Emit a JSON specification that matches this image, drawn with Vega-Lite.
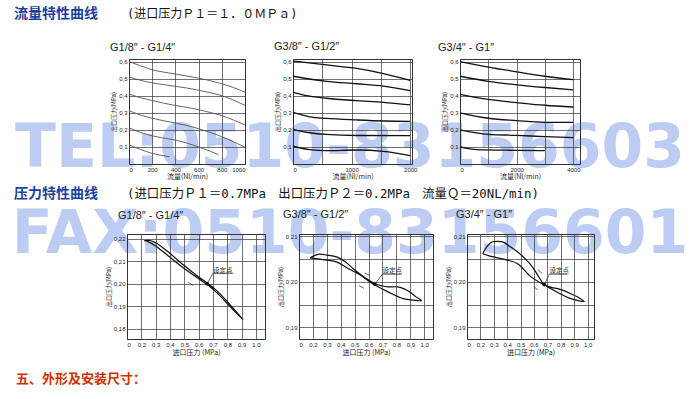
{
  "$schema": "https://vega.github.io/schema/vega-lite/v6.json",
  "padding": 0,
  "background": "white",
  "spacing": 0,
  "config": {
    "view": {"stroke": null},
    "axis": {"grid": true, "gridColor": "#333", "gridWidth": 0.7, "gridOpacity": 1, "domain": false, "ticks": false, "labelOverlap": false,
      "labelFont": "Liberation Sans", "labelFontSize": 6, "labelColor": "#222", "labelPadding": 2,
      "titleFont": "Noto Sans CJK SC", "titleFontSize": 6, "titleFontWeight": "normal", "titleColor": "#222", "titlePadding": 2},
    "title": {"font": "Liberation Sans", "fontSize": 11, "fontWeight": "normal", "color": "#222", "anchor": "start", "frame": "group"},
    "point": {"filled": true, "color": "#111", "size": 14, "opacity": 1},
    "rule": {"color": "#222", "strokeWidth": 0.7},
    "text": {"font": "Noto Sans CJK SC", "fontSize": 6.5, "align": "left", "baseline": "alphabetic", "color": "#222"}
  },
  "datasets": {
    "flow1": [
      {"set": "0.6", "q": 0, "p": 0.600}, {"set": "0.6", "q": 100, "p": 0.575}, {"set": "0.6", "q": 200, "p": 0.552}, {"set": "0.6", "q": 300, "p": 0.538}, {"set": "0.6", "q": 400, "p": 0.527}, {"set": "0.6", "q": 500, "p": 0.515}, {"set": "0.6", "q": 600, "p": 0.503}, {"set": "0.6", "q": 700, "p": 0.488}, {"set": "0.6", "q": 800, "p": 0.470}, {"set": "0.6", "q": 900, "p": 0.448}, {"set": "0.6", "q": 1000, "p": 0.420},
      {"set": "0.5", "q": 0, "p": 0.510}, {"set": "0.5", "q": 100, "p": 0.490}, {"set": "0.5", "q": 200, "p": 0.475}, {"set": "0.5", "q": 300, "p": 0.465}, {"set": "0.5", "q": 400, "p": 0.455}, {"set": "0.5", "q": 500, "p": 0.445}, {"set": "0.5", "q": 600, "p": 0.432}, {"set": "0.5", "q": 700, "p": 0.418}, {"set": "0.5", "q": 800, "p": 0.400}, {"set": "0.5", "q": 900, "p": 0.375}, {"set": "0.5", "q": 1000, "p": 0.343},
      {"set": "0.4", "q": 0, "p": 0.410}, {"set": "0.4", "q": 100, "p": 0.388}, {"set": "0.4", "q": 200, "p": 0.372}, {"set": "0.4", "q": 300, "p": 0.356}, {"set": "0.4", "q": 400, "p": 0.343}, {"set": "0.4", "q": 500, "p": 0.332}, {"set": "0.4", "q": 600, "p": 0.318}, {"set": "0.4", "q": 700, "p": 0.302}, {"set": "0.4", "q": 800, "p": 0.283}, {"set": "0.4", "q": 900, "p": 0.258}, {"set": "0.4", "q": 1000, "p": 0.228},
      {"set": "0.3", "q": 0, "p": 0.312}, {"set": "0.3", "q": 100, "p": 0.287}, {"set": "0.3", "q": 200, "p": 0.268}, {"set": "0.3", "q": 300, "p": 0.253}, {"set": "0.3", "q": 400, "p": 0.240}, {"set": "0.3", "q": 500, "p": 0.225}, {"set": "0.3", "q": 600, "p": 0.207}, {"set": "0.3", "q": 700, "p": 0.185}, {"set": "0.3", "q": 800, "p": 0.160}, {"set": "0.3", "q": 900, "p": 0.130}, {"set": "0.3", "q": 1000, "p": 0.098},
      {"set": "0.2", "q": 0, "p": 0.212}, {"set": "0.2", "q": 100, "p": 0.185}, {"set": "0.2", "q": 200, "p": 0.165}, {"set": "0.2", "q": 300, "p": 0.152}, {"set": "0.2", "q": 400, "p": 0.140}, {"set": "0.2", "q": 500, "p": 0.122}, {"set": "0.2", "q": 600, "p": 0.100}, {"set": "0.2", "q": 700, "p": 0.075}, {"set": "0.2", "q": 770, "p": 0.055},
      {"set": "0.1", "q": 0, "p": 0.112}, {"set": "0.1", "q": 100, "p": 0.085}, {"set": "0.1", "q": 200, "p": 0.062}, {"set": "0.1", "q": 300, "p": 0.048}, {"set": "0.1", "q": 350, "p": 0.042}
    ],
    "flow2": [
      {"set": "0.6", "q": 0, "p": 0.603}, {"set": "0.6", "q": 571, "p": 0.580}, {"set": "0.6", "q": 1086, "p": 0.560}, {"set": "0.6", "q": 1543, "p": 0.530}, {"set": "0.6", "q": 2000, "p": 0.490},
      {"set": "0.5", "q": 0, "p": 0.514}, {"set": "0.5", "q": 571, "p": 0.484}, {"set": "0.5", "q": 1086, "p": 0.470}, {"set": "0.5", "q": 1543, "p": 0.456}, {"set": "0.5", "q": 2000, "p": 0.430},
      {"set": "0.4", "q": 0, "p": 0.420}, {"set": "0.4", "q": 286, "p": 0.397}, {"set": "0.4", "q": 571, "p": 0.385}, {"set": "0.4", "q": 1086, "p": 0.371}, {"set": "0.4", "q": 1543, "p": 0.361}, {"set": "0.4", "q": 2000, "p": 0.346},
      {"set": "0.3", "q": 0, "p": 0.302}, {"set": "0.3", "q": 286, "p": 0.276}, {"set": "0.3", "q": 571, "p": 0.267}, {"set": "0.3", "q": 1086, "p": 0.258}, {"set": "0.3", "q": 1543, "p": 0.252}, {"set": "0.3", "q": 2000, "p": 0.250},
      {"set": "0.2", "q": 0, "p": 0.203}, {"set": "0.2", "q": 286, "p": 0.183}, {"set": "0.2", "q": 571, "p": 0.173}, {"set": "0.2", "q": 1086, "p": 0.167}, {"set": "0.2", "q": 2000, "p": 0.166},
      {"set": "0.1", "q": 0, "p": 0.104}, {"set": "0.1", "q": 286, "p": 0.084}, {"set": "0.1", "q": 571, "p": 0.078}, {"set": "0.1", "q": 1086, "p": 0.082}, {"set": "0.1", "q": 1543, "p": 0.074}, {"set": "0.1", "q": 2000, "p": 0.049}
    ],
    "flow3": [
      {"set": "0.6", "q": 0, "p": 0.600}, {"set": "0.6", "q": 1000, "p": 0.568}, {"set": "0.6", "q": 2000, "p": 0.540}, {"set": "0.6", "q": 3000, "p": 0.514}, {"set": "0.6", "q": 4000, "p": 0.494},
      {"set": "0.5", "q": 0, "p": 0.514}, {"set": "0.5", "q": 1000, "p": 0.484}, {"set": "0.5", "q": 2000, "p": 0.464}, {"set": "0.5", "q": 3000, "p": 0.448}, {"set": "0.5", "q": 4000, "p": 0.434},
      {"set": "0.4", "q": 0, "p": 0.408}, {"set": "0.4", "q": 1000, "p": 0.378}, {"set": "0.4", "q": 2000, "p": 0.360}, {"set": "0.4", "q": 3000, "p": 0.344}, {"set": "0.4", "q": 4000, "p": 0.334},
      {"set": "0.3", "q": 0, "p": 0.300}, {"set": "0.3", "q": 1000, "p": 0.268}, {"set": "0.3", "q": 2000, "p": 0.254}, {"set": "0.3", "q": 3000, "p": 0.244}, {"set": "0.3", "q": 4000, "p": 0.244},
      {"set": "0.2", "q": 0, "p": 0.200}, {"set": "0.2", "q": 1000, "p": 0.174}, {"set": "0.2", "q": 2000, "p": 0.168}, {"set": "0.2", "q": 3000, "p": 0.160}, {"set": "0.2", "q": 4000, "p": 0.154},
      {"set": "0.1", "q": 0, "p": 0.100}, {"set": "0.1", "q": 600, "p": 0.084}, {"set": "0.1", "q": 2000, "p": 0.080}, {"set": "0.1", "q": 3000, "p": 0.078}
    ],
    "pres1": [
      {"o": 1, "x": 0.22, "y": 0.2192}, {"o": 2, "x": 0.26, "y": 0.2192}, {"o": 3, "x": 0.30, "y": 0.2182}, {"o": 4, "x": 0.38, "y": 0.2145}, {"o": 5, "x": 0.49, "y": 0.2085}, {"o": 6, "x": 0.60, "y": 0.2030}, {"o": 7, "x": 0.66, "y": 0.2003}, {"o": 8, "x": 0.73, "y": 0.1967}, {"o": 9, "x": 0.82, "y": 0.1906}, {"o": 10, "x": 0.91, "y": 0.1840},
      {"o": 11, "x": 0.82, "y": 0.1898}, {"o": 12, "x": 0.73, "y": 0.1958}, {"o": 13, "x": 0.66, "y": 0.1996}, {"o": 14, "x": 0.60, "y": 0.2022}, {"o": 15, "x": 0.49, "y": 0.2072}, {"o": 16, "x": 0.38, "y": 0.2128}, {"o": 17, "x": 0.30, "y": 0.2168}, {"o": 18, "x": 0.25, "y": 0.2186}, {"o": 19, "x": 0.22, "y": 0.2192}
    ],
    "pres2": [
      {"o": 1, "x": 0.18, "y": 0.2053}, {"o": 2, "x": 0.22, "y": 0.2059}, {"o": 3, "x": 0.25, "y": 0.2061}, {"o": 4, "x": 0.30, "y": 0.2059}, {"o": 5, "x": 0.37, "y": 0.2055}, {"o": 6, "x": 0.43, "y": 0.2045}, {"o": 7, "x": 0.49, "y": 0.2029}, {"o": 8, "x": 0.57, "y": 0.2010}, {"o": 9, "x": 0.645, "y": 0.1996}, {"o": 10, "x": 0.70, "y": 0.1991}, {"o": 11, "x": 0.74, "y": 0.1989}, {"o": 12, "x": 0.81, "y": 0.1989}, {"o": 13, "x": 0.86, "y": 0.1984}, {"o": 14, "x": 0.90, "y": 0.1977}, {"o": 15, "x": 0.94, "y": 0.1967}, {"o": 16, "x": 0.98, "y": 0.1959},
      {"o": 17, "x": 0.92, "y": 0.1960}, {"o": 18, "x": 0.85, "y": 0.1963}, {"o": 19, "x": 0.74, "y": 0.1978}, {"o": 20, "x": 0.645, "y": 0.1993}, {"o": 21, "x": 0.54, "y": 0.2015}, {"o": 22, "x": 0.45, "y": 0.2030}, {"o": 23, "x": 0.37, "y": 0.2044}, {"o": 24, "x": 0.30, "y": 0.2048}, {"o": 25, "x": 0.25, "y": 0.2050}, {"o": 26, "x": 0.18, "y": 0.2053}
    ],
    "pres3": [
      {"o": 1, "x": 0.217, "y": 0.2062}, {"o": 2, "x": 0.25, "y": 0.2078}, {"o": 3, "x": 0.28, "y": 0.2087}, {"o": 4, "x": 0.304, "y": 0.2089}, {"o": 5, "x": 0.366, "y": 0.2088}, {"o": 6, "x": 0.42, "y": 0.2078}, {"o": 7, "x": 0.478, "y": 0.2066}, {"o": 8, "x": 0.53, "y": 0.2052}, {"o": 9, "x": 0.578, "y": 0.2037}, {"o": 10, "x": 0.628, "y": 0.2015}, {"o": 11, "x": 0.677, "y": 0.1994}, {"o": 12, "x": 0.73, "y": 0.1988}, {"o": 13, "x": 0.789, "y": 0.1984}, {"o": 14, "x": 0.876, "y": 0.1974}, {"o": 15, "x": 0.93, "y": 0.1966}, {"o": 16, "x": 0.975, "y": 0.1957},
      {"o": 17, "x": 0.876, "y": 0.1963}, {"o": 18, "x": 0.751, "y": 0.1981}, {"o": 19, "x": 0.677, "y": 0.1993}, {"o": 20, "x": 0.578, "y": 0.2011}, {"o": 21, "x": 0.478, "y": 0.2040}, {"o": 22, "x": 0.40, "y": 0.2048}, {"o": 23, "x": 0.329, "y": 0.2053}, {"o": 24, "x": 0.26, "y": 0.2058}, {"o": 25, "x": 0.217, "y": 0.2062}
    ],
    "sp1": [{"x": 0.66, "y": 0.2000}],
    "sp2": [{"x": 0.645, "y": 0.1995}],
    "sp3": [{"x": 0.677, "y": 0.1994}],
    "lab1": [{"x": 0.70, "y": 0.2049, "t": "设定点"}],
    "lab2": [{"x": 0.70, "y": 0.2019, "t": "设定点"}],
    "lab3": [{"x": 0.715, "y": 0.2019, "t": "设定点"}],
    "rule1": [
      {"x": 0.70, "y": 0.2047, "x2": 0.84, "y2": 0.2047}, {"x": 0.70, "y": 0.2047, "x2": 0.66, "y2": 0.2000},
      {"x": 0.574, "y": 0.2040, "x2": 0.609, "y2": 0.2028}, {"x": 0.528, "y": 0.2006, "x2": 0.563, "y2": 0.1991}
    ],
    "rule2": [
      {"x": 0.70, "y": 0.2017, "x2": 0.84, "y2": 0.2017}, {"x": 0.70, "y": 0.2017, "x2": 0.645, "y2": 0.1995},
      {"x": 0.572, "y": 0.2020, "x2": 0.608, "y2": 0.2014}, {"x": 0.531, "y": 0.1992, "x2": 0.565, "y2": 0.1986}
    ],
    "rule3": [
      {"x": 0.715, "y": 0.2017, "x2": 0.85, "y2": 0.2017}, {"x": 0.715, "y": 0.2017, "x2": 0.677, "y2": 0.1994},
      {"x": 0.628, "y": 0.2027, "x2": 0.66, "y2": 0.2019}, {"x": 0.598, "y": 0.1989, "x2": 0.628, "y2": 0.1983}
    ]
  },
  "vconcat": [
    {
      "width": 700, "height": 40,
      "data": {"values": [{"a": "流量特性曲线", "b": "(进口压力Ｐ１＝１．０ＭＰａ)"}]},
      "layer": [
        {"mark": {"type": "text", "align": "left", "baseline": "middle", "font": "Noto Sans CJK SC", "fontSize": 14, "fontWeight": "bold", "color": "#1c3f9e"},
         "encoding": {"text": {"field": "a"}, "x": {"value": 14}, "y": {"value": 14}}},
        {"mark": {"type": "text", "align": "left", "baseline": "middle", "font": "DejaVu Sans Mono, Noto Sans CJK SC", "fontSize": 12, "color": "#111"},
         "encoding": {"text": {"field": "b"}, "x": {"value": 127}, "y": {"value": 14}}}
      ]
    },
    {
      "bounds": "flush",
      "spacing": 48,
      "hconcat": [
        {"width": 81, "height": 10, "data": {"values": [{"t": "TEL:0510-83156603"}]},
         "mark": {"type": "text", "font": "DejaVu Sans", "fontWeight": "bold", "fontSize": 60, "fill": "#b6c7f2", "opacity": 0.9, "align": "center", "baseline": "middle"},
         "encoding": {"text": {"field": "t"}, "x": {"value": 350}, "y": {"value": 90}}},
        {
          "width": 116, "height": 105,
          "view": {"stroke": "#333", "strokeWidth": 1},
          "title": {"text": "G1/8″ - G1/4″", "dx": -19, "offset": 6},
          "encoding": {
            "x": {"field": "q", "type": "quantitative", "scale": {"domain": [0, 1000], "nice": false, "zero": false},
                  "axis": {"values": [0, 200, 400, 600, 800, 1000], "labelExpr": "format(datum.value, 'd')", "title": "流量(Nl/min)", "titleFontSize": 7, "titlePadding": 0}},
            "y": {"field": "p", "type": "quantitative", "scale": {"domain": [0, 0.615], "nice": false, "zero": false},
                  "axis": {"values": [0.1, 0.2, 0.3, 0.4, 0.5, 0.6], "title": "出口压力(MPa)", "labelExpr": "replace(format(datum.value, '.1f'), '.', ',')"}}
          },
          "layer": [
            {"data": {"name": "flow1"}, "mark": {"type": "line", "stroke": "#555", "strokeWidth": 0.9, "interpolate": "monotone"},
             "encoding": {"detail": {"field": "set"}}},
            {"data": {"values": [{}]}, "mark": {"type": "rect", "fill": null, "stroke": "#999", "strokeWidth": 0.8},
             "encoding": {
               "x": {"datum": -190, "type": "quantitative", "scale": {"domain": [0, 1000], "nice": false, "zero": false},
                     "axis": {"values": [0, 200, 400, 600, 800, 1000], "labelExpr": "format(datum.value, 'd')", "title": "流量(Nl/min)", "titleFontSize": 7, "titlePadding": 0}},
               "x2": {"datum": 1060},
               "y": {"datum": 0.644, "type": "quantitative", "scale": {"domain": [0, 0.615], "nice": false, "zero": false},
                     "axis": {"values": [0.1, 0.2, 0.3, 0.4, 0.5, 0.6], "title": "出口压力(MPa)", "labelExpr": "replace(format(datum.value, '.1f'), '.', ',')"}},
               "y2": {"datum": -0.088}}}
          ]
        },
        {
          "width": 119, "height": 105,
          "view": {"stroke": "#333", "strokeWidth": 1},
          "title": {"text": "G3/8″ - G1/2″", "dx": -19, "offset": 6},
          "encoding": {
            "x": {"field": "q", "type": "quantitative", "scale": {"domain": [0, 2030], "nice": false, "zero": false},
                  "axis": {"values": [0, 500, 1000, 1500, 2000], "labelExpr": "datum.value % 1000 == 0 ? format(datum.value, 'd') : ''", "title": "流量(Nl/min)", "titleFontSize": 7, "titlePadding": 0}},
            "y": {"field": "p", "type": "quantitative", "scale": {"domain": [0, 0.615], "nice": false, "zero": false},
                  "axis": {"values": [0.1, 0.2, 0.3, 0.4, 0.5, 0.6], "title": "出口压力(MPa)", "labelExpr": "replace(format(datum.value, '.1f'), '.', ',')"}}
          },
          "layer": [
            {"data": {"name": "flow2"}, "mark": {"type": "line", "stroke": "#111", "strokeWidth": 1.3, "interpolate": "monotone"},
             "encoding": {"detail": {"field": "set"}}},
            {"data": {"values": [{}]}, "mark": {"type": "rect", "fill": null, "stroke": "#999", "strokeWidth": 0.8},
             "encoding": {
               "x": {"datum": -340, "type": "quantitative", "scale": {"domain": [0, 2030], "nice": false, "zero": false},
                     "axis": {"values": [0, 500, 1000, 1500, 2000], "labelExpr": "datum.value % 1000 == 0 ? format(datum.value, 'd') : ''", "title": "流量(Nl/min)", "titleFontSize": 7, "titlePadding": 0}},
               "x2": {"datum": 2070},
               "y": {"datum": 0.644, "type": "quantitative", "scale": {"domain": [0, 0.615], "nice": false, "zero": false},
                     "axis": {"values": [0.1, 0.2, 0.3, 0.4, 0.5, 0.6], "title": "出口压力(MPa)", "labelExpr": "replace(format(datum.value, '.1f'), '.', ',')"}},
               "y2": {"datum": -0.088}}}
          ]
        },
        {
          "width": 120, "height": 105,
          "view": {"stroke": "#333", "strokeWidth": 1},
          "title": {"text": "G3/4″ - G1″", "dx": -22, "offset": 6},
          "encoding": {
            "x": {"field": "q", "type": "quantitative", "scale": {"domain": [0, 4235], "nice": false, "zero": false},
                  "axis": {"values": [0, 1000, 2000, 3000, 4000], "labelExpr": "datum.value % 2000 == 0 ? format(datum.value, 'd') : ''", "title": "流量(Nl/min)", "titleFontSize": 7, "titlePadding": 0}},
            "y": {"field": "p", "type": "quantitative", "scale": {"domain": [0, 0.615], "nice": false, "zero": false},
                  "axis": {"values": [0.1, 0.2, 0.3, 0.4, 0.5, 0.6], "title": "出口压力(MPa)", "labelExpr": "replace(format(datum.value, '.1f'), '.', ',')"}}
          },
          "layer": [
            {"data": {"name": "flow3"}, "mark": {"type": "line", "stroke": "#111", "strokeWidth": 1.3, "interpolate": "monotone"},
             "encoding": {"detail": {"field": "set"}}},
            {"data": {"values": [{}]}, "mark": {"type": "rect", "fill": null, "stroke": "#999", "strokeWidth": 0.8},
             "encoding": {
               "x": {"datum": -800, "type": "quantitative", "scale": {"domain": [0, 4235], "nice": false, "zero": false},
                     "axis": {"values": [0, 1000, 2000, 3000, 4000], "labelExpr": "datum.value % 2000 == 0 ? format(datum.value, 'd') : ''", "title": "流量(Nl/min)", "titleFontSize": 7, "titlePadding": 0}},
               "x2": {"datum": 4330},
               "y": {"datum": 0.644, "type": "quantitative", "scale": {"domain": [0, 0.615], "nice": false, "zero": false},
                     "axis": {"values": [0.1, 0.2, 0.3, 0.4, 0.5, 0.6], "title": "出口压力(MPa)", "labelExpr": "replace(format(datum.value, '.1f'), '.', ',')"}},
               "y2": {"datum": -0.088}}}
          ]
        }
      ]
    },
    {
      "width": 700, "height": 25,
      "data": {"values": [{"a": "压力特性曲线", "b": "(进口压力Ｐ１＝0.7MPa　出口压力Ｐ２＝0.2MPa　流量Ｑ＝20NL/min)"}]},
      "layer": [
        {"mark": {"type": "text", "align": "left", "baseline": "middle", "font": "Noto Sans CJK SC", "fontSize": 14, "fontWeight": "bold", "color": "#1c3f9e"},
         "encoding": {"text": {"field": "a"}, "x": {"value": 14}, "y": {"value": 14}}},
        {"mark": {"type": "text", "align": "left", "baseline": "middle", "font": "DejaVu Sans Mono, Noto Sans CJK SC", "fontSize": 12.4, "color": "#111"},
         "encoding": {"text": {"field": "b"}, "x": {"value": 127}, "y": {"value": 14}}}
      ]
    },
    {
      "bounds": "flush",
      "spacing": 34,
      "hconcat": [
        {"width": 93, "height": 10, "data": {"values": [{"t": "FAX:0510-83156601"}]},
         "mark": {"type": "text", "font": "DejaVu Sans", "fontWeight": "bold", "fontSize": 60, "fill": "#b6c7f2", "opacity": 0.9, "align": "center", "baseline": "middle"},
         "encoding": {"text": {"field": "t"}, "x": {"value": 350}, "y": {"value": 1}}},
        {
          "width": 138, "height": 105,
          "view": {"stroke": "#333", "strokeWidth": 1},
          "title": {"text": "G1/8″ - G1/4″", "dx": -9, "offset": 13},
          "encoding": {
            "x": {"field": "x", "type": "quantitative", "scale": {"domain": [0.1, 1.063], "nice": false, "zero": false},
                  "axis": {"values": [0.1, 0.2, 0.3, 0.4, 0.5, 0.6, 0.7, 0.8, 0.9, 1.0], "title": "进口压力 (MPa)", "titleFontSize": 7, "titlePadding": 1, "labelExpr": "datum.value < 0.15 ? '0' : replace(format(datum.value, '.1f'), '.', ',')"}},
            "y": {"field": "y", "type": "quantitative", "scale": {"domain": [0.1754, 0.2221], "nice": false, "zero": false},
                  "axis": {"values": [0.18, 0.19, 0.20, 0.21, 0.22], "title": "出口压力(MPa)", "labelExpr": "replace(format(datum.value, '.2f'), '.', ',')"}}
          },
          "layer": [
            {"data": {"name": "pres1"}, "mark": {"type": "line", "stroke": "#111", "strokeWidth": 1.2, "interpolate": "catmull-rom"},
             "encoding": {"order": {"field": "o"}}},
            {"data": {"name": "rule1"}, "mark": "rule", "encoding": {"x2": {"field": "x2"}, "y2": {"field": "y2"}}},
            {"data": {"name": "sp1"}, "mark": "point"},
            {"data": {"name": "lab1"}, "mark": "text", "encoding": {"text": {"field": "t"}}},
            {"data": {"values": [{}]}, "mark": {"type": "rect", "fill": null, "stroke": "#999", "strokeWidth": 0.8},
             "encoding": {
               "x": {"datum": 0.023, "type": "quantitative", "scale": {"domain": [0.1, 1.063], "nice": false, "zero": false},
                     "axis": {"values": [0.1, 0.2, 0.3, 0.4, 0.5, 0.6, 0.7, 0.8, 0.9, 1.0], "title": "进口压力 (MPa)", "titleFontSize": 7, "titlePadding": 1, "labelExpr": "datum.value < 0.15 ? '0' : replace(format(datum.value, '.1f'), '.', ',')"}},
               "x2": {"datum": 1.07},
               "y": {"datum": 0.2223, "type": "quantitative", "scale": {"domain": [0.1754, 0.2221], "nice": false, "zero": false},
                     "axis": {"values": [0.18, 0.19, 0.20, 0.21, 0.22], "title": "出口压力(MPa)", "labelExpr": "replace(format(datum.value, '.2f'), '.', ',')"}},
               "y2": {"datum": 0.1687}}}
          ]
        },
        {
          "width": 134, "height": 105,
          "view": {"stroke": "#333", "strokeWidth": 1},
          "title": {"text": "G3/8″ - G1/2″", "dx": -16, "offset": 13},
          "encoding": {
            "x": {"field": "x", "type": "quantitative", "scale": {"domain": [0.1, 1.063], "nice": false, "zero": false},
                  "axis": {"values": [0.1, 0.2, 0.3, 0.4, 0.5, 0.6, 0.7, 0.8, 0.9, 1.0], "title": "进口压力 (MPa)", "titleFontSize": 7, "titlePadding": 1, "labelExpr": "datum.value < 0.15 ? '0' : replace(format(datum.value, '.1f'), '.', ',')"}},
            "y": {"field": "y", "type": "quantitative", "scale": {"domain": [0.18742, 0.21055], "nice": false, "zero": false},
                  "axis": {"values": [0.19, 0.195, 0.20, 0.205, 0.21], "title": "出口压力(MPa)", "labelExpr": "abs(datum.value * 100 - round(datum.value * 100)) < 0.01 ? replace(format(datum.value, '.2f'), '.', ',') : ''"}}
          },
          "layer": [
            {"data": {"name": "pres2"}, "mark": {"type": "line", "stroke": "#111", "strokeWidth": 1.2, "interpolate": "catmull-rom"},
             "encoding": {"order": {"field": "o"}}},
            {"data": {"name": "rule2"}, "mark": "rule", "encoding": {"x2": {"field": "x2"}, "y2": {"field": "y2"}}},
            {"data": {"name": "sp2"}, "mark": "point"},
            {"data": {"name": "lab2"}, "mark": "text", "encoding": {"text": {"field": "t"}}},
            {"data": {"values": [{}]}, "mark": {"type": "rect", "fill": null, "stroke": "#999", "strokeWidth": 0.8},
             "encoding": {
               "x": {"datum": 0.019, "type": "quantitative", "scale": {"domain": [0.1, 1.063], "nice": false, "zero": false},
                     "axis": {"values": [0.1, 0.2, 0.3, 0.4, 0.5, 0.6, 0.7, 0.8, 0.9, 1.0], "title": "进口压力 (MPa)", "titleFontSize": 7, "titlePadding": 1, "labelExpr": "datum.value < 0.15 ? '0' : replace(format(datum.value, '.1f'), '.', ',')"}},
               "x2": {"datum": 1.07},
               "y": {"datum": 0.21066, "type": "quantitative", "scale": {"domain": [0.18742, 0.21055], "nice": false, "zero": false},
                     "axis": {"values": [0.19, 0.195, 0.20, 0.205, 0.21], "title": "出口压力(MPa)", "labelExpr": "abs(datum.value * 100 - round(datum.value * 100)) < 0.01 ? replace(format(datum.value, '.2f'), '.', ',') : ''"}},
               "y2": {"datum": 0.18434}}}
          ]
        },
        {
          "width": 127, "height": 105,
          "view": {"stroke": "#333", "strokeWidth": 1},
          "title": {"text": "G3/4″ - G1″", "dx": -11, "offset": 13},
          "encoding": {
            "x": {"field": "x", "type": "quantitative", "scale": {"domain": [0.1, 1.048], "nice": false, "zero": false},
                  "axis": {"values": [0.1, 0.2, 0.3, 0.4, 0.5, 0.6, 0.7, 0.8, 0.9, 1.0], "title": "进口压力 (MPa)", "titleFontSize": 7, "titlePadding": 1, "labelExpr": "datum.value < 0.15 ? '0' : replace(format(datum.value, '.1f'), '.', ',')"}},
            "y": {"field": "y", "type": "quantitative", "scale": {"domain": [0.18742, 0.21055], "nice": false, "zero": false},
                  "axis": {"values": [0.19, 0.195, 0.20, 0.205, 0.21], "title": "出口压力(MPa)", "labelExpr": "abs(datum.value * 100 - round(datum.value * 100)) < 0.01 ? replace(format(datum.value, '.2f'), '.', ',') : ''"}}
          },
          "layer": [
            {"data": {"name": "pres3"}, "mark": {"type": "line", "stroke": "#111", "strokeWidth": 1.2, "interpolate": "catmull-rom"},
             "encoding": {"order": {"field": "o"}}},
            {"data": {"name": "rule3"}, "mark": "rule", "encoding": {"x2": {"field": "x2"}, "y2": {"field": "y2"}}},
            {"data": {"name": "sp3"}, "mark": "point"},
            {"data": {"name": "lab3"}, "mark": "text", "encoding": {"text": {"field": "t"}}},
            {"data": {"values": [{}]}, "mark": {"type": "rect", "fill": null, "stroke": "#999", "strokeWidth": 0.8},
             "encoding": {
               "x": {"datum": 0.005, "type": "quantitative", "scale": {"domain": [0.1, 1.048], "nice": false, "zero": false},
                     "axis": {"values": [0.1, 0.2, 0.3, 0.4, 0.5, 0.6, 0.7, 0.8, 0.9, 1.0], "title": "进口压力 (MPa)", "titleFontSize": 7, "titlePadding": 1, "labelExpr": "datum.value < 0.15 ? '0' : replace(format(datum.value, '.1f'), '.', ',')"}},
               "x2": {"datum": 1.063},
               "y": {"datum": 0.21066, "type": "quantitative", "scale": {"domain": [0.18742, 0.21055], "nice": false, "zero": false},
                     "axis": {"values": [0.19, 0.195, 0.20, 0.205, 0.21], "title": "出口压力(MPa)", "labelExpr": "abs(datum.value * 100 - round(datum.value * 100)) < 0.01 ? replace(format(datum.value, '.2f'), '.', ',') : ''"}},
               "y2": {"datum": 0.18434}}}
          ]
        }
      ]
    },
    {
      "width": 700, "height": 40,
      "data": {"values": [{"a": "五、外形及安装尺寸："}]},
      "mark": {"type": "text", "align": "left", "baseline": "middle", "font": "Noto Sans CJK SC", "fontSize": 13, "fontWeight": "bold", "color": "#cc3300"},
      "encoding": {"text": {"field": "a"}, "x": {"value": 16}, "y": {"value": 23}}
    }
  ]
}
